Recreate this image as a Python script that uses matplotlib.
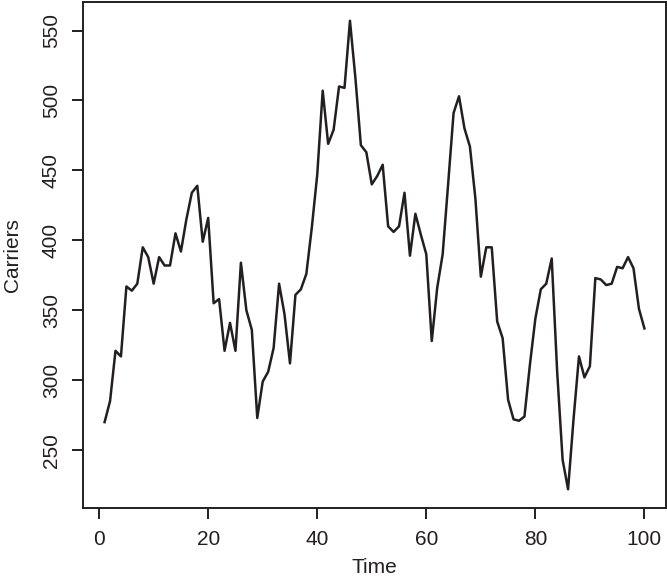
import numpy as np
import matplotlib
matplotlib.use("Agg")
from matplotlib import pyplot as plt

# carriers per time step
time = np.arange(1, 101)
carriers = [
    270, 285, 321, 317, 367, 364, 369, 395, 388, 369,
    388, 382, 382, 405, 392, 415, 434, 439, 399, 416,
    355, 358, 321, 341, 321, 384, 350, 336, 273, 299,
    306, 323, 369, 347, 312, 361, 365, 376, 409, 447,
    507, 469, 479, 510, 509, 557, 516, 468, 463, 440,
    446, 454, 410, 406, 410, 434, 389, 419, 404, 390,
    328, 366, 390, 440, 491, 503, 480, 467, 430, 374,
    395, 395, 342, 330, 286, 272, 271, 274, 311, 344,
    365, 369, 387, 306, 243, 222, 272, 317, 302, 310,
    373, 372, 368, 369, 381, 380, 388, 380, 351, 337,
]

plt.rcParams['font.family'] = ['Liberation Sans', 'DejaVu Sans']
ink = '#231f20'

fig = plt.figure(figsize=(6.67, 5.79), dpi=100)
ax = fig.add_axes([83/667, 1 - 508/579, (666 - 83)/667, (508 - 2)/579])

ax.plot(time, carriers, color=ink, lw=1.8)

# R style 4% padding
xr = time.max() - time.min()
yr = max(carriers) - min(carriers)
ax.set_xlim(time.min() - 0.04*xr, time.max() + 0.04*xr)
ax.set_ylim(min(carriers) - 0.04*yr, max(carriers) + 0.04*yr)

ax.set_xticks([0, 20, 40, 60, 80, 100])
ax.set_yticks([250, 300, 350, 400, 450, 500, 550])
ax.set_yticklabels(['250', '300', '350', '400', '450', '500', '550'], rotation=90, va='center')

for s in ax.spines.values():
    s.set_linewidth(1.4)
    s.set_color(ink)
ax.tick_params(direction='out', length=8, width=1.4, color=ink,
               labelsize=15, labelcolor=ink)
ax.tick_params(axis='x', pad=8)
ax.tick_params(axis='y', pad=8)

ax.set_xlabel('Time', fontsize=15, color=ink, labelpad=6.5)
ax.set_ylabel('Carriers', fontsize=15, color=ink, labelpad=14)

fig.savefig('out.png', dpi=100)
